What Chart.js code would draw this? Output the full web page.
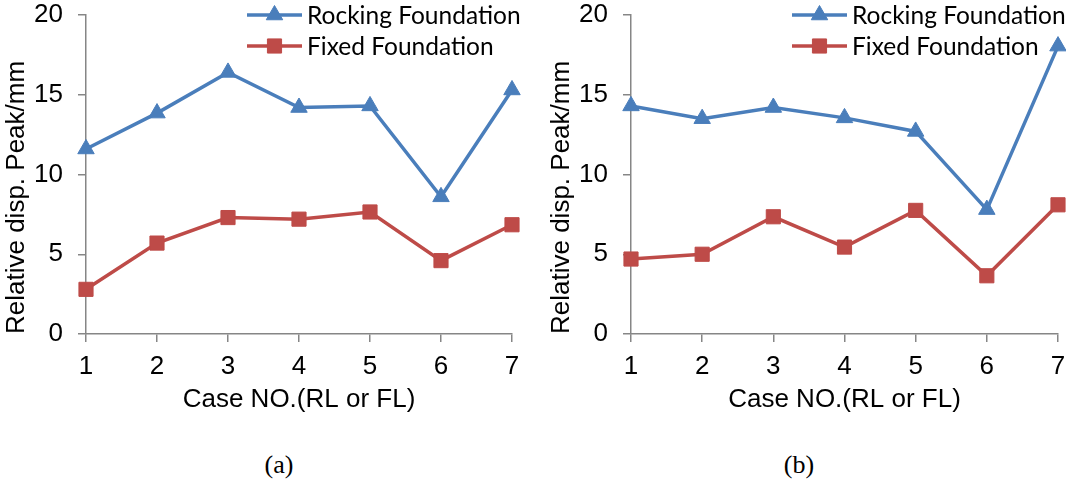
<!DOCTYPE html>
<html>
<head>
<meta charset="utf-8">
<script src="https://cdn.jsdelivr.net/npm/chart.js@4/dist/chart.umd.min.js"></script>
<style>
  body { margin: 0; background: #fff; width: 1066px; height: 479px; position: relative; overflow: hidden; }
  canvas { position: absolute; top: 0; }
  .cap { position: absolute; top: 450px; font: 26px "Liberation Serif", "Times New Roman", serif; transform: translateX(-50%); color: #000; }
</style>
</head>
<body>
<canvas id="chartA" width="545" height="430" style="left:0"></canvas>
<canvas id="chartB" width="545" height="430" style="left:545px"></canvas>
<div class="cap" style="left:279px">(a)</div>
<div class="cap" style="left:799px">(b)</div>
<script>
const caseNo = ["1", "2", "3", "4", "5", "6", "7"];
const rockingA = [11.6, 13.85, 16.4, 14.2, 14.3, 8.6, 15.3];
const fixedA = [2.8, 5.7, 7.3, 7.2, 7.65, 4.6, 6.85];
const rockingB = [14.3, 13.5, 14.2, 13.55, 12.7, 7.8, 18.05];
const fixedB = [4.7, 5.0, 7.35, 5.45, 7.75, 3.65, 8.1];
const seriesNames = ["Rocking Foundation", "Fixed Foundation"];
const yMin = 0, yMax = 20, yStep = 5;

const blue = "#4A7EBB";
const red = "#BE4B48";
const axisGray = "#868686";

Chart.defaults.font.family = "'Liberation Sans', Arial, sans-serif";
Chart.defaults.color = "#000";

// legend drawn as line + marker, sitting on top of the plot like Excel does
const lineLegend = {
  id: "lineLegend",
  afterDraw(chart, args, opts) {
    const ctx = chart.ctx;
    ctx.save();
    chart.data.datasets.forEach((ds, i) => {
      const y = opts.y + i * 31;
      ctx.strokeStyle = ds.borderColor;
      ctx.lineWidth = ds.borderWidth;
      ctx.beginPath();
      ctx.moveTo(opts.x, y);
      ctx.lineTo(opts.x + 55, y);
      ctx.stroke();
      ctx.fillStyle = ds.backgroundColor;
      ctx.lineWidth = 1;
      Chart.helpers.drawPoint(ctx, { pointStyle: ds.pointStyle, radius: ds.pointRadius, borderWidth: 1, rotation: 0 }, opts.x + 27.5, y);
      ctx.fillStyle = "#000";
      ctx.font = "24.5px Lato, 'Open Sans', sans-serif";
      ctx.textBaseline = "middle";
      ctx.fillText(ds.label, opts.x + 60, y + 1);
    });
    ctx.restore();
  }
};

function makeChart(id, rocking, fixed, rightPad) {
  new Chart(document.getElementById(id), {
    type: "line",
    data: {
      labels: caseNo,
      datasets: [
        {
          label: seriesNames[0],
          data: rocking,
          borderColor: blue,
          backgroundColor: blue,
          borderWidth: 3.5,
          pointStyle: "triangle",
          pointRadius: 9.5,
          pointBorderWidth: 1,
          clip: false,
        },
        {
          label: seriesNames[1],
          data: fixed,
          borderColor: red,
          backgroundColor: red,
          borderWidth: 3.5,
          pointStyle: "rect",
          pointRadius: 10,
          pointBorderWidth: 1,
          clip: false,
        },
      ],
    },
    options: {
      responsive: false,
      animation: false,
      events: [],
      layout: { autoPadding: false, padding: { top: 15, right: rightPad, left: 0, bottom: 0 } },
      plugins: {
        legend: { display: false },
        tooltip: { enabled: false },
        lineLegend: { x: 247, y: 15 },
      },
      scales: {
        x: {
          offset: false,
          grid: { display: true, drawOnChartArea: false, drawTicks: true, tickLength: 8, color: axisGray, lineWidth: 1.5 },
          border: { color: axisGray, width: 1.5 },
          ticks: { font: { size: 26 }, padding: 9, maxRotation: 0 },
          title: { display: true, text: "Case NO.(RL or FL)", font: { size: 26 }, padding: 15 },
          afterFit(scale) {
            scale.height = 96;
            scale.paddingLeft = 0;
            scale.paddingRight = 0;
          },
        },
        y: {
          min: yMin,
          max: yMax,
          ticks: { stepSize: yStep, font: { size: 26 }, padding: 15 },
          grid: { display: true, drawOnChartArea: false, drawTicks: true, tickLength: 8, color: axisGray, lineWidth: 1.5 },
          border: { color: axisGray, width: 1.5 },
          title: { display: true, text: "Relative disp. Peak/mm", font: { size: 26 }, padding: 1, align: "start" },
          afterFit(scale) {
            scale.width = 86;
            scale.paddingTop = 0;
            scale.paddingBottom = 0;
          },
        },
      },
    },
    plugins: [lineLegend],
  });
}

makeChart("chartA", rockingA, fixedA, 33);
makeChart("chartB", rockingB, fixedB, 32);
</script>
</body>
</html>
